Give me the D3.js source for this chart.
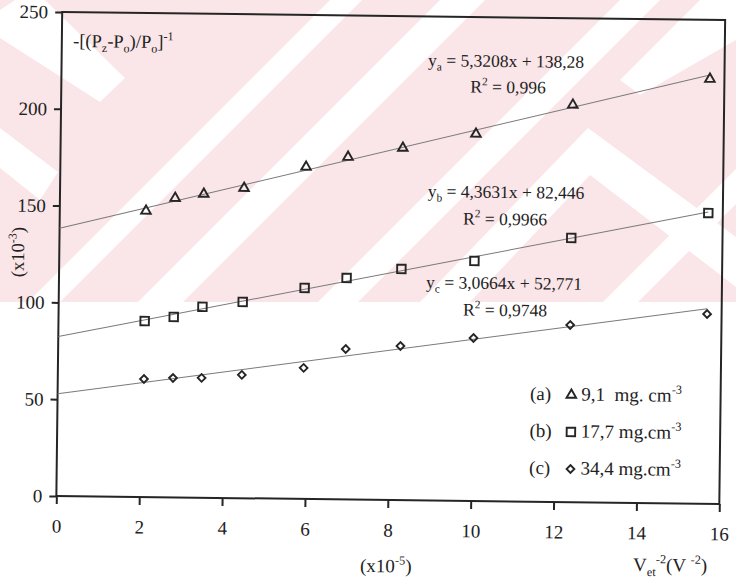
<!DOCTYPE html>
<html>
<head>
<meta charset="utf-8">
<script src="https://cdn.jsdelivr.net/npm/d3@7"></script>
<style>
  html, body { margin: 0; padding: 0; background: #fff; }
  svg { display: block; }
  text { font-family: "Liberation Serif", "Times New Roman", serif; fill: #222; white-space: pre; }
</style>
</head>
<body>
<svg id="chart" width="736" height="585"></svg>
<script>
// ---------------- data ----------------
const xValues = [2.08, 2.78, 3.47, 4.44, 5.93, 6.94, 8.26, 10.02, 12.35, 15.65];
const seriesA = [147.8, 154.6, 156.9, 160.2, 171.5, 176.9, 181.9, 189.6, 205.2, 219.4]; // 9,1 mg.cm-3
const seriesB = [90.9, 93.2, 98.6, 101.4, 109.0, 114.4, 119.4, 124.0, 136.5, 150.2];   // 17,7 mg.cm-3
const seriesC = [61.0, 61.7, 61.9, 63.7, 67.7, 77.7, 79.6, 84.2, 91.5, 98.0];          // 34,4 mg.cm-3
const slopes = [5.3208, 4.3631, 3.0664];
const intercepts = [138.28, 82.446, 52.771];
const seriesKeys = ['a', 'b', 'c'];
const equationTexts = ['5,3208x + 138,28', '4,3631x + 82,446', '3,0664x + 52,771'];
const r2Texts = ['0,996', '0,9966', '0,9748'];
const legendTexts = ['9,1  mg. cm', '17,7 mg.cm', '34,4 mg.cm'];
const xTicks = [0, 2, 4, 6, 8, 10, 12, 14, 16];
const yTicks = [0, 50, 100, 150, 200, 250];

// ---------------- setup ----------------
const svg = d3.select('#chart');
const W = 736, H = 585;
const L = 59.25, R = 722.25, T = 16, B = 500;
const ink = '#252525';

// background watermark (scan of a stamped page)
const wm = svg.append('g');
svg.append('defs').append('clipPath').attr('id', 'wmclip')
  .append('rect').attr('x', 0).attr('y', 0).attr('width', W).attr('height', 302);
const wmg = wm.attr('clip-path', 'url(#wmclip)');
wmg.append('rect').attr('x', 0).attr('y', 0).attr('width', W).attr('height', 302).attr('fill', '#fae5e8');
const slashBands = [[330, 362], [440, 485], [620, 660], [905, 940]];
slashBands.forEach(([a, b]) => {
  wmg.append('polygon')
    .attr('points', `${a},0 ${b},0 ${b - 400},400 ${a - 400},400`)
    .attr('fill', '#fff');
});
wmg.append('polygon').attr('points', '15,0 45,0 125,78 100,102 0,38 0,10').attr('fill', '#fff');
wmg.append('polygon').attr('points', '0,128 58,172 40,200 0,168').attr('fill', '#fff');
wmg.append('polygon').attr('points', '588,128 740,240 740,290 590,175 470,302 420,302').attr('fill', '#fff');
wmg.append('polygon').attr('points', '700,0 736,0 736,40 640,95 620,80').attr('fill', '#fff');

// chart group (scan is slightly rotated)
const g = svg.append('g').attr('transform', `rotate(0.69, ${(L + R) / 2}, ${(T + B) / 2})`);

const x = d3.scaleLinear().domain([0, 16]).range([L, R]);
const y = d3.scaleLinear().domain([0, 250]).range([B, T]);

// rich text helper
function rich(parent, px, py, parts, fs, anchor) {
  const t = parent.append('text').attr('x', px).attr('y', py)
    .attr('font-size', fs).attr('text-anchor', anchor || 'start');
  let cur = 0;
  parts.forEach(([s, k]) => {
    const target = k === 'sup' ? -0.42 * fs : k === 'sub' ? 0.25 * fs : 0;
    const ts = t.append('tspan').attr('dy', target - cur).text(s);
    if (k) ts.attr('font-size', fs * 0.65);
    cur = target;
  });
  return t;
}

// axes
const xAxis = g.append('g').attr('transform', `translate(0,${B})`)
  .call(d3.axisBottom(x).tickValues(xTicks).tickSize(8).tickSizeOuter(0).tickPadding(15).tickFormat(d3.format('d')));
const yAxis = g.append('g').attr('transform', `translate(${L},0)`)
  .call(d3.axisLeft(y).tickValues(yTicks).tickSize(7).tickSizeOuter(0).tickPadding(7).tickFormat(d3.format('d')));
[xAxis, yAxis].forEach(a => {
  a.select('.domain').remove();
  a.selectAll('line').attr('stroke', ink).attr('stroke-width', 2);
  a.selectAll('text').attr('font-family', '"Liberation Serif", serif').attr('font-size', 19).attr('fill', '#222');
});

// frame
g.append('rect').attr('x', L).attr('y', T).attr('width', R - L).attr('height', B - T)
  .attr('fill', 'none').attr('stroke', ink).attr('stroke-width', 2);

// trend lines
const lastX = xValues[xValues.length - 1];
slopes.forEach((m, i) => {
  g.append('line')
    .attr('x1', x(0)).attr('y1', y(intercepts[i]))
    .attr('x2', x(lastX)).attr('y2', y(intercepts[i] + m * lastX))
    .attr('stroke', '#7a7a7a').attr('stroke-width', 1);
});

// markers
const triPath = d3.symbol().type(d3.symbolTriangle).size(40)();
const sqPath = d3.symbol().type(d3.symbolSquare).size(72)();
const diaPath = d3.symbol().type(d3.symbolSquare).size(30)();
const markerDefs = [
  { data: seriesA, path: triPath, rot: 0 },
  { data: seriesB, path: sqPath, rot: 0 },
  { data: seriesC, path: diaPath, rot: 45 }
];
markerDefs.forEach(md => {
  g.append('g').selectAll('path').data(md.data).join('path')
    .attr('d', md.path)
    .attr('transform', (d, i) => `translate(${x(xValues[i])},${y(d)}) rotate(${md.rot})`)
    .attr('fill', 'none').attr('stroke', ink).attr('stroke-width', 1.9);
});

// equation annotations
const eqPos = [[503.7, 65.6, 506, 91.6], [505.3, 196.6, 504.6, 223.6], [504.4, 287.6, 505.7, 314.6]];
seriesKeys.forEach((k, i) => {
  const p = eqPos[i];
  rich(g, p[0], p[1], [['y'], [k, 'sub'], [' = ' + equationTexts[i]]], 17.5, 'middle');
  rich(g, p[2], p[3], [['R'], ['2', 'sup'], [' = ' + r2Texts[i]]], 17.5, 'middle');
});

// axis titles
rich(g, 70.5, 50.8, [['-[(P'], ['z', 'sub'], ['-P'], ['o', 'sub'], [')/P'], ['o', 'sub'], [']'], ['-1', 'sup']], 18.5);
const ylab = g.append('g').attr('transform', 'translate(24,256.5) rotate(-90)');
rich(ylab, 0, 0, [['(x10'], ['-3', 'sup'], [')']], 18.5, 'middle');
rich(g, 363.8, 572.4, [['(x10'], ['-5', 'sup'], [')']], 19);
rich(g, 636.8, 568.1, [['V'], ['et', 'sub'], ['-2', 'sup'], ['(V '], ['-2', 'sup'], [')']], 19);

// legend
const legY = [398.3, 435.3, 472.3];
const legSym = [triPath, sqPath, diaPath];
const legRot = [0, 0, 45];
seriesKeys.forEach((k, i) => {
  rich(g, 531.7, legY[i], [['(' + k + ')']], 19);
  g.append('path').attr('d', legSym[i])
    .attr('transform', `translate(573,${legY[i] - 5.5}) rotate(${legRot[i]})`)
    .attr('fill', 'none').attr('stroke', ink).attr('stroke-width', 1.9);
  rich(g, 583, legY[i], [[legendTexts[i]], ['-3', 'sup']], 19);
});
</script>
</body>
</html>
